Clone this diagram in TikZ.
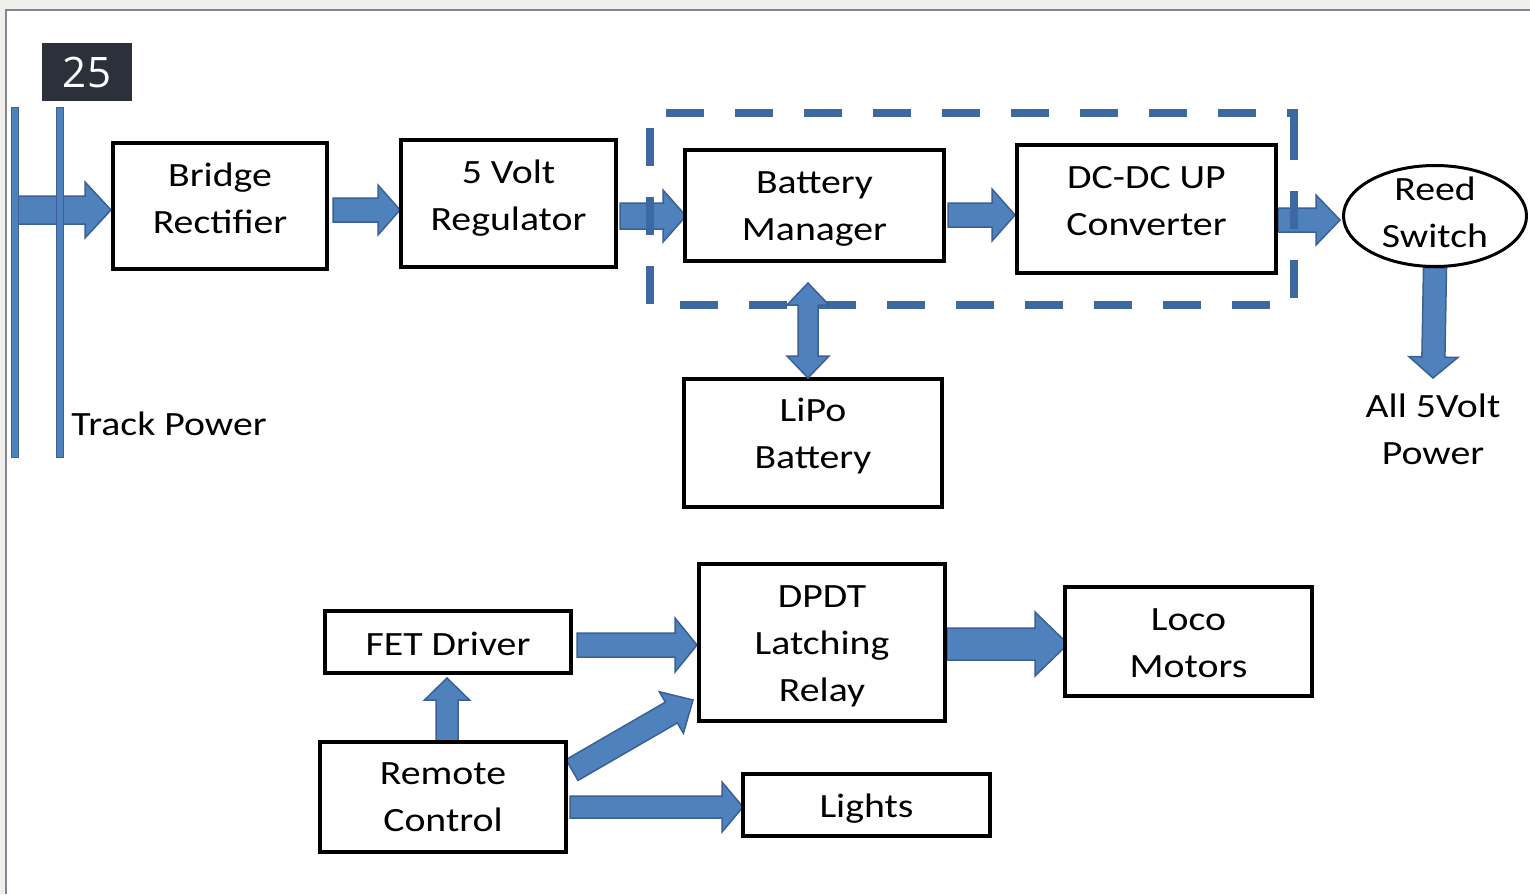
\documentclass[tikz,border=0pt]{standalone}
\usepackage{fontspec}
\setmainfont{Carlito}[FakeStretch=1.17]
\newfontfamily\badgefont{Open Sans}
\usetikzlibrary{calc,shapes.geometric}
\definecolor{pagebg}{HTML}{F1EFEC}
\definecolor{framegray}{HTML}{80868F}
\definecolor{ablue}{HTML}{4F81BD}
\definecolor{aline}{HTML}{3A6095}
\definecolor{dashblue}{HTML}{3D69A2}
\definecolor{badgebg}{HTML}{2B303B}
\pgfdeclarelayer{back}
\pgfdeclarelayer{arrows}
\pgfsetlayers{back,arrows,main}
\newcommand\boxfs{\fontsize{34}{47}\selectfont}
% #1 from, #2 to, #3 shaft half width, #4 head half width, #5 head length
\newcommand\blockarrow[5]{%
  \coordinate (ba-s) at #1; \coordinate (ba-e) at #2;
  \draw[barrow] ($(ba-s)!#3!90:(ba-e)$) -- ($(ba-e)!#5!(ba-s)!#3!270:(ba-s)$)
    -- ($(ba-e)!#5!(ba-s)!#4!270:(ba-s)$) -- (ba-e)
    -- ($(ba-e)!#5!(ba-s)!#4!90:(ba-s)$) -- ($(ba-e)!#5!(ba-s)!#3!90:(ba-s)$)
    -- ($(ba-s)!#3!270:(ba-e)$) -- cycle;}
\newcommand\dblockarrow[5]{%
  \coordinate (ba-s) at #1; \coordinate (ba-e) at #2;
  \draw[barrow] (ba-s) -- ($(ba-s)!#5!(ba-e)!#4!90:(ba-e)$) -- ($(ba-s)!#5!(ba-e)!#3!90:(ba-e)$)
    -- ($(ba-e)!#5!(ba-s)!#3!270:(ba-s)$) -- ($(ba-e)!#5!(ba-s)!#4!270:(ba-s)$) -- (ba-e)
    -- ($(ba-e)!#5!(ba-s)!#4!90:(ba-s)$) -- ($(ba-e)!#5!(ba-s)!#3!90:(ba-s)$)
    -- ($(ba-s)!#5!(ba-e)!#3!270:(ba-e)$) -- ($(ba-s)!#5!(ba-e)!#4!270:(ba-e)$) -- cycle;}
\begin{document}
\begin{tikzpicture}[x=1pt,y=-1pt,
  box/.style={draw=black, line width=4pt, fill=white, inner sep=0pt},
  barrow/.style={fill=ablue, draw=aline, line width=1.5pt, line join=miter},
  rail/.style={fill=ablue, draw=aline, line width=1pt},
  plain/.style={align=center, font=\boxfs, inner sep=0pt}]
\useasboundingbox (0,0) rectangle (1530,894);
\begin{pgfonlayer}{back}
\fill[pagebg] (0,0) rectangle (1530,894);
\fill[white] (6,10) rectangle (1530,894);
\draw[framegray, line width=2pt] (6,894) -- (6,10) -- (1530,10);
\end{pgfonlayer}

\node[fill=badgebg, text=white, minimum width=90pt, minimum height=58pt, inner sep=0pt,
  font=\badgefont\fontsize{42}{48}\selectfont] (badge) at (87,72) {25};

% boxes
\node[box, minimum width=214pt, minimum height=126pt] (br) at (220,206) {};
\node[box, minimum width=215pt, minimum height=127pt] (reg) at (508.5,203.5) {};
\node[box, minimum width=259pt, minimum height=111pt] (bm) at (814.5,205.5) {};
\node[box, minimum width=259pt, minimum height=128pt] (dc) at (1146.5,209) {};
\node[box, ellipse, line width=3pt, minimum width=183pt, minimum height=101pt] (reed) at (1435,216) {};
\node[box, minimum width=258pt, minimum height=128pt] (lipo) at (813,443) {};
\node[box, minimum width=246pt, minimum height=62pt] (fet) at (448,642) {};
\node[box, minimum width=246pt, minimum height=157pt] (dpdt) at (822,642.5) {};
\node[box, minimum width=247pt, minimum height=109pt] (loco) at (1188.5,641.5) {};
\node[box, minimum width=246pt, minimum height=110pt] (rc) at (443,797) {};
\node[box, minimum width=247pt, minimum height=62pt] (lights) at (866.5,805) {};

% texts
\node[plain] (br-t) at ($(br)+(0,-8)$) {Bridge\\Rectifier};
\node[plain] (reg-t) at ($(reg)+(0,-5)$) {5 Volt\\Regulator};
\node[plain] (bm-t) at ($(bm)+(0,4)$) {Battery\\Manager};
\node[plain] (dc-t) at ($(dc)+(0,-8)$) {DC-DC UP\\Converter};
\node[plain] (reed-t) at ($(reed)+(0,-3.5)$) {Reed\\Switch};
\node[plain] (lipo-t) at ($(lipo)+(0,-6.5)$) {LiPo\\Battery};
\node[plain] (fet-t) at ($(fet)+(0,2)$) {FET Driver};
\node[plain] (dpdt-t) at ($(dpdt)+(0,3.5)$) {DPDT\\Latching\\Relay};
\node[plain] (loco-t) at ($(loco)+(0,2)$) {Loco\\Motors};
\node[plain] (rc-t) at (rc) {Remote\\Control};
\node[plain] (lights-t) at ($(lights)+(0,4)$) {Lights};
\node[plain] (all) at (1433,429) {All 5Volt\\Power};
\node[plain] (track) at (169,424) {Track Power};
\coordinate (tpin) at (12,210);

\begin{pgfonlayer}{arrows}
\blockarrow{(tpin)}{(br.west |- tpin)}{14pt}{28pt}{26pt}
\blockarrow{($(br.east)+(4,4)$)}{($(reg.west)+(1,6.5)$)}{12pt}{25pt}{22pt}
\blockarrow{($(reg.east)+(2,12.5)$)}{($(bm.west)+(3,10.5)$)}{13pt}{26pt}{23pt}
\blockarrow{($(bm.east)+(2,9.5)$)}{($(dc.west)+(0,6)$)}{12pt}{26pt}{23pt}
\blockarrow{($(dc.east)+(0,11)$)}{($(reed.west)+(-2,4)$)}{12pt}{25pt}{24pt}
\blockarrow{(reed.south)}{($(reed.south)+(-2,110)$)}{11.5pt}{24.5pt}{21pt}
\blockarrow{($(fet.east)+(4,3)$)}{($(dpdt.west)+(0,2.5)$)}{12pt}{27pt}{22pt}
\blockarrow{($(dpdt.east)+(0,1.5)$)}{($(loco.west)+(5,2.5)$)}{16pt}{32pt}{33pt}
\blockarrow{($(rc.north)+(4,2)$)}{($(fet.south)+(-1,3)$)}{11pt}{22.5pt}{22pt}
\blockarrow{($(rc.east)+(4,-27)$)}{($(dpdt.west)+(-4,57.5)$)}{12pt}{24pt}{25pt}
\blockarrow{($(rc.east)+(2,10)$)}{($(lights.west)+(2,2)$)}{11pt}{25pt}{21pt}
\end{pgfonlayer}

% track rails
\filldraw[rail] (11,107) rectangle (18,457);
\filldraw[rail] (56,107) rectangle (63,457);

% dashed group
\draw[dashblue, line width=8pt, line join=miter, dash pattern=on 38pt off 31pt]
  (1294,144) -- (1294,113) -- (650,113) -- (650,305) -- (1294,305) -- cycle;

\dblockarrow{($(bm.south)+(-6.5,20)$)}{($(lipo.north)+(-5,1)$)}{10pt}{21pt}{22pt}
\end{tikzpicture}
\end{document}
